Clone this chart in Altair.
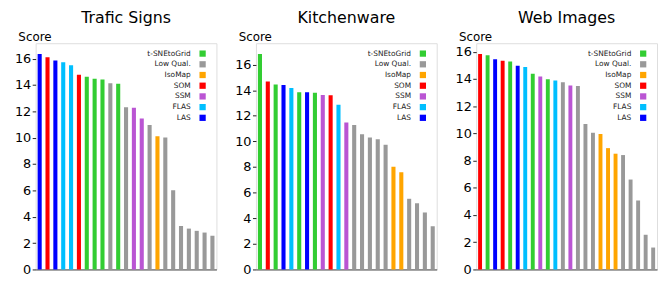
import altair as alt
import pandas as pd

FONT = "DejaVu Sans"

legend_methods = ["t-SNEtoGrid", "Low Qual.", "IsoMap", "SOM", "SSM", "FLAS", "LAS"]
legend_colors = ["#32cd32", "#999999", "#ffa500", "#ff0000", "#ba55d3", "#00bfff", "#0000ff"]

titles = ["Trafic Signs", "Kitchenware", "Web Images"]

traffic_methods = ["LAS", "SOM", "LAS", "FLAS", "FLAS", "SOM", "t-SNEtoGrid", "t-SNEtoGrid",
                   "t-SNEtoGrid", "Low Qual.", "t-SNEtoGrid", "Low Qual.", "SSM", "SSM",
                   "Low Qual.", "IsoMap", "Low Qual.", "Low Qual.", "Low Qual.", "Low Qual.",
                   "Low Qual.", "Low Qual.", "Low Qual."]
traffic_scores = [16.35, 16.1, 15.85, 15.73, 15.5, 14.78, 14.63, 14.48, 14.41, 14.14, 14.09,
                  12.3, 12.27, 11.45, 10.96, 10.11, 10.01, 6.01, 3.3, 3.1, 2.93, 2.8, 2.56]

kitchen_methods = ["t-SNEtoGrid", "SOM", "t-SNEtoGrid", "LAS", "FLAS", "t-SNEtoGrid", "LAS",
                   "t-SNEtoGrid", "SSM", "SOM", "FLAS", "SSM", "Low Qual.", "Low Qual.",
                   "Low Qual.", "Low Qual.", "Low Qual.", "IsoMap", "IsoMap", "Low Qual.",
                   "Low Qual.", "Low Qual.", "Low Qual."]
kitchen_scores = [16.83, 14.68, 14.45, 14.4, 14.17, 13.84, 13.84, 13.81, 13.63, 13.6, 12.86,
                  11.48, 11.28, 10.56, 10.31, 10.18, 9.74, 8.03, 7.6, 5.52, 5.17, 4.45, 3.38]

web_methods = ["SOM", "t-SNEtoGrid", "LAS", "SOM", "t-SNEtoGrid", "LAS", "FLAS", "t-SNEtoGrid",
               "SSM", "t-SNEtoGrid", "FLAS", "Low Qual.", "SSM", "Low Qual.", "Low Qual.",
               "Low Qual.", "IsoMap", "IsoMap", "IsoMap", "Low Qual.", "Low Qual.",
               "Low Qual.", "Low Qual.", "Low Qual."]
web_scores = [15.84, 15.75, 15.46, 15.34, 15.29, 14.98, 14.88, 14.38, 14.18, 13.99, 13.89,
              13.77, 13.53, 13.49, 10.7, 10.05, 9.95, 8.92, 8.51, 8.41, 6.61, 5.07, 2.55, 1.61]

y_ticks = [0, 2, 4, 6, 8, 10, 12, 14, 16]

W = 183
H = 229

color_scale = alt.Scale(domain=legend_methods, range=legend_colors)
legend_df = pd.DataFrame({"method": legend_methods})


def panel(title, methods, scores):
    df = pd.DataFrame({"rank": list(range(len(scores))), "method": methods, "score": scores})
    ymax = max(scores) * 1.05
    bars = alt.Chart(df).mark_bar().encode(
        x=alt.X("rank:O", scale=alt.Scale(paddingInner=0.48, paddingOuter=0.25),
                axis=alt.Axis(labels=False, ticks=False, title=None, domainColor="#444444",
                              domainWidth=1)),
        y=alt.Y("score:Q", scale=alt.Scale(domain=[0, ymax], nice=False, zero=True),
                axis=alt.Axis(values=y_ticks, title="Score", titleAngle=0, titleAlign="left",
                              titleBaseline="alphabetic", titleX=-18, titleY=-3,
                              titleFontSize=12, titleFontWeight="normal", titleFont=FONT,
                              titleColor="#000000", labelFont=FONT, labelFontSize=13,
                              labelColor="#000000", tickSize=3.5, tickColor="#222222",
                              labelPadding=1.5, grid=False, domain=False)),
        color=alt.Color("method:N", scale=color_scale, legend=None),
    )
    ly = alt.Y("method:N", scale=alt.Scale(type="point", domain=legend_methods,
                                           range=[10.5, 75.5], padding=0), axis=None)
    ltext = alt.Chart(legend_df).mark_text(align="right", baseline="middle", font=FONT,
                                           fontSize=7.5, color="#222222").encode(
        x=alt.value(W - 26), y=ly, text="method:N")
    lsq = alt.Chart(legend_df).mark_square(size=40, opacity=1).encode(
        x=alt.value(W - 14), y=ly,
        color=alt.Color("method:N", scale=color_scale, legend=None))
    return alt.layer(bars, ltext, lsq).resolve_scale(y="independent").properties(
        width=W, height=H,
        title=alt.TitleParams(title, fontSize=16, font=FONT, fontWeight="normal",
                              color="#000000", offset=4, anchor="middle"))


chart = alt.hconcat(
    panel(titles[0], traffic_methods, traffic_scores),
    panel(titles[1], kitchen_methods, kitchen_scores),
    panel(titles[2], web_methods, web_scores),
    spacing=16,
).properties(
    padding={"left": 5, "top": 0, "right": 0, "bottom": 0}
).configure_view(stroke="#aaaaaa", strokeWidth=1).configure(background="white")

chart.save("out.html", embed_options={"renderer": "svg", "actions": False})
